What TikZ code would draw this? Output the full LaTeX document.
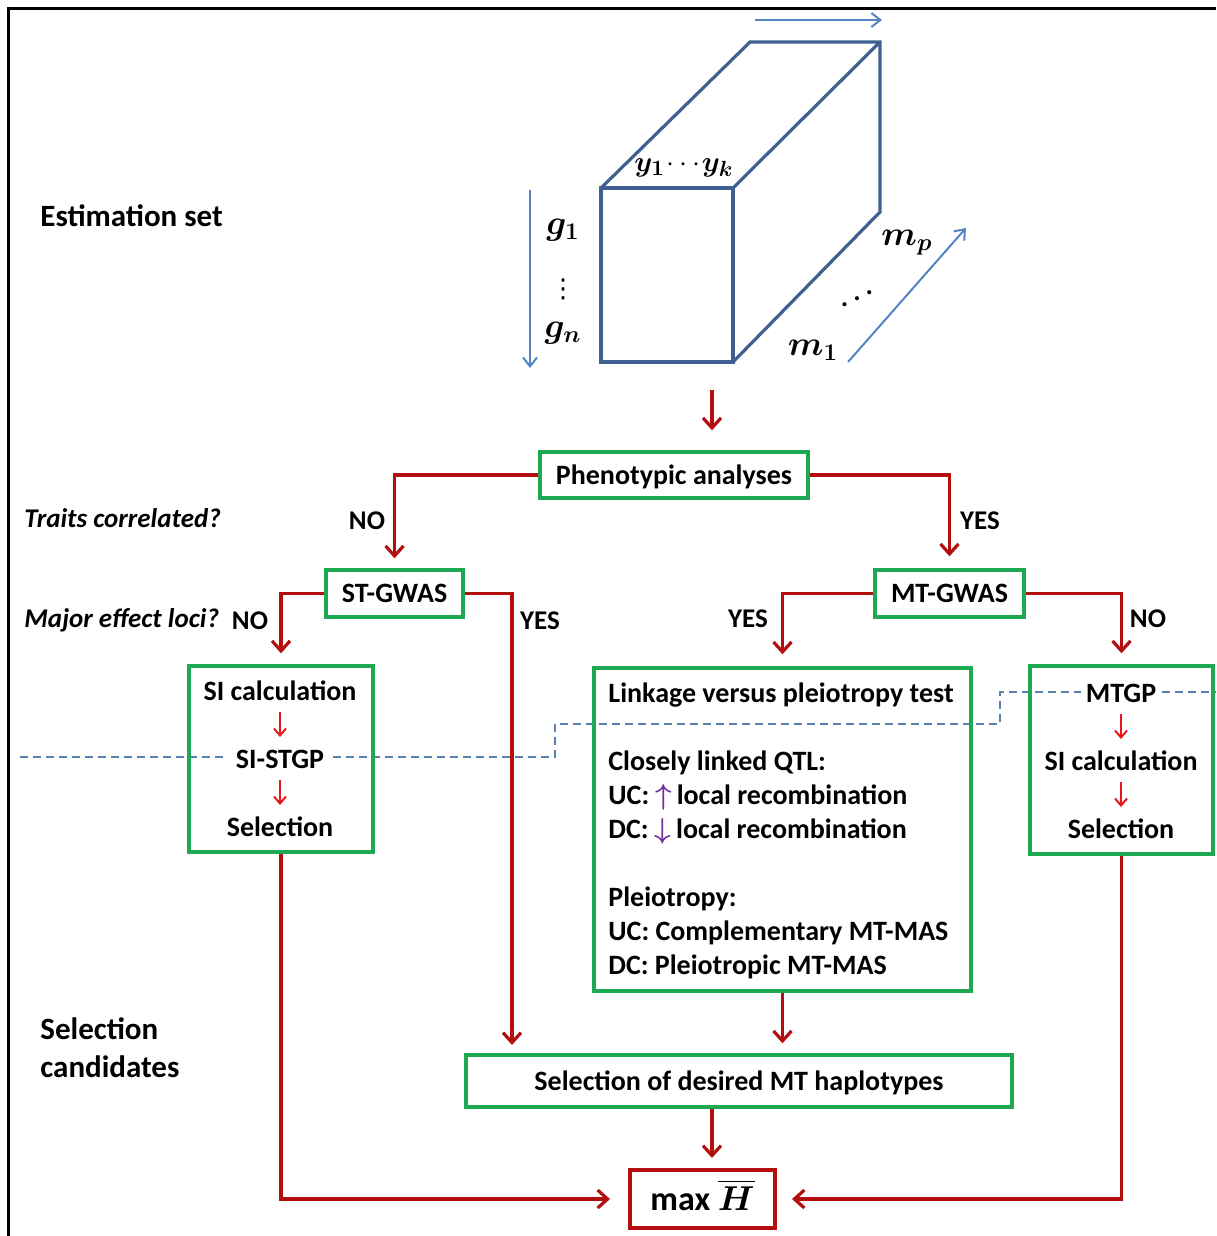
\documentclass[tikz,border=0pt]{standalone}
\usepackage{fontspec}
\setmainfont{Carlito}
\newfontfamily\djv{DejaVu Sans}
\usepackage{amsmath,bm,graphicx}
\usetikzlibrary{arrows.meta,calc}
\definecolor{gboxc}{HTML}{1DA851}
\definecolor{rline}{HTML}{B30F0F}
\definecolor{rsmall}{HTML}{E8161B}
\definecolor{cubeblue}{HTML}{3F6090}
\definecolor{arrblue}{HTML}{5585C0}
\definecolor{dashblue}{HTML}{5A80B0}
\definecolor{purp}{HTML}{7030A0}
\begin{document}
\begin{tikzpicture}[x=0.5pt,y=-0.5pt,
  box/.style={draw=gboxc, line width=1.7pt, inner sep=0pt, font=\bfseries\fontsize{14}{17}\selectfont, text height=9pt, text depth=0pt},
  txt/.style={font=\bfseries\fontsize{14}{17}\selectfont, inner sep=0pt, text height=9pt, text depth=0pt},
  lbl/.style={font=\bfseries\fontsize{13.5}{16}\selectfont, inner sep=0pt, text height=8.7pt, text depth=0pt},
  qlbl/.style={font=\bfseries\itshape\fontsize{13.5}{16}\selectfont, inner sep=0pt, anchor=west},
  big/.style={font=\bfseries\fontsize{15.5}{19}\selectfont, inner sep=0pt, anchor=west, align=left},
  mth/.style={font=\fontsize{17}{20}\selectfont, inner sep=0pt},
  flow/.style={draw=rline, line width=1.6pt, -{Straight Barb[length=5pt,width=9pt]}},
  minor/.style={draw=rsmall, line width=1pt, -{Straight Barb[length=3.5pt,width=6pt]}},
  cube/.style={draw=cubeblue, line width=1.6pt, line join=miter},
  bluearr/.style={draw=arrblue, line width=1pt, -{Straight Barb[length=4.5pt,width=7pt]}},
  divider/.style={draw=dashblue, line width=0.8pt, dash pattern=on 4pt off 2.5pt}
]
\useasboundingbox (0,0) rectangle (1216,1236);
% frame
\draw[line width=1.5pt] (8,1236) -- (8,9) -- (1216,9);

% cube
\draw[cube] (601,188) rectangle (733,362);
\draw[cube] (601,188) -- (750,42) -- (880,42) -- (880,212) -- (733,362);
\draw[cube] (733,188) -- (880,42);
\draw[bluearr] (530,190) -- (530,368);
\draw[bluearr] (755,20) -- (882,20);
\draw[bluearr] (848,362) -- (966,228);
\node[mth, font=\fontsize{15.5}{18}\selectfont] (yk) at (684,168) {$\bm{y_1}\mkern-2mu\cdots\mkern-2mu\bm{y_k}$};
\node[mth] (g1) at (563,230) {$\bm{g_1}$};
\node[mth, font=\djv\fontsize{13}{15}\selectfont] (vd) at (563,289) {⋮};
\node[mth] (gn) at (563,333) {$\bm{g_n}$};
\node[mth] (mp) at (907,243) {$\bm{m_p}$};
\node[mth] (m1) at (813,350) {$\bm{m_1}$};
\node[mth] (dd) at (857,293) {\reflectbox{$\ddots$}};

% side labels
\node[big] (est) at (40,216) {Estimation set};
\node[big] (selc) at (40,1048) {Selection\\candidates};
\node[qlbl] (q1) at (24,518) {Traits correlated?};
\node[qlbl] (q2) at (24,620) {Major effect loci?};

% dashed divider
\draw[divider] (20,757) -- (228,757);
\draw[divider] (333,757) -- (555,757) -- (555,724) -- (1000,724) -- (1000,692) -- (1081,692);
\draw[divider] (1162,692) -- (1216,692);

% boxes
\node[box, minimum width=134pt, minimum height=23pt] (pheno) at (674,475) {Phenotypic analyses};
\node[box, minimum width=68.5pt, minimum height=23.5pt] (st) at (394.5,593.5) {ST-GWAS};
\node[box, minimum width=74.5pt, minimum height=23.5pt] (mt) at (949.5,593.5) {MT-GWAS};
\node[box, minimum width=92pt, minimum height=93pt] (si) at (281,759) {};
\node[box, minimum width=188.5pt, minimum height=161.5pt] (link) at (782.5,829.5) {};
\node[box, minimum width=91.5pt, minimum height=94pt] (mtgp) at (1121.5,760) {};
\node[box, minimum width=273pt, minimum height=26pt] (haplo) at (739,1081) {Selection of desired MT haplotypes};
\node[box, draw=rline, line width=2pt, minimum width=72.5pt, minimum height=29pt, font=\bfseries\fontsize{17}{20}\selectfont, text height=11pt] (max) at (702.5,1199) {max $\overline{\bm{H}}$};

% SI box contents
\node[txt] (si1) at (280,691) {SI calculation};
\node[txt] (si2) at (280,759) {SI-STGP};
\node[txt] (si3) at (280,827) {Selection};
\draw[minor] ([yshift=-10.5pt]si1.center) -- ([yshift=11pt]si2.center);
\draw[minor] ([yshift=-10.5pt]si2.center) -- ([yshift=11pt]si3.center);

% MTGP box contents
\node[txt] (mg1) at (1121,693) {MTGP};
\node[txt] (mg2) at (1121,761) {SI calculation};
\node[txt] (mg3) at (1121,829) {Selection};
\draw[minor] ([yshift=-10.5pt]mg1.center) -- ([yshift=11pt]mg2.center);
\draw[minor] ([yshift=-10.5pt]mg2.center) -- ([yshift=11pt]mg3.center);

% Linkage box contents
\node[txt, anchor=west] (l1) at (608,693) {Linkage versus pleiotropy test};
\node[txt, anchor=west] (l2) at (608,761) {Closely linked QTL:};
\node[txt, anchor=west] (l3) at (608,795) {UC: \textcolor{purp}{$\bm{\uparrow}$}\,local recombination};
\node[txt, anchor=west] (l4) at (608,829) {DC: \textcolor{purp}{$\bm{\downarrow}$}\,local recombination};
\node[txt, anchor=west] (l5) at (608,897) {Pleiotropy:};
\node[txt, anchor=west] (l6) at (608,931) {UC: Complementary MT-MAS};
\node[txt, anchor=west] (l7) at (608,965) {DC: Pleiotropic MT-MAS};

% decision labels
\node[lbl] (no1) at (367,521) {NO};
\node[lbl] (yes1) at (980,521) {YES};
\node[lbl] (no2) at (250,621) {NO};
\node[lbl] (yes2) at (540,621) {YES};
\node[lbl] (yes3) at (748,619) {YES};
\node[lbl] (no3) at (1148,619) {NO};

% connectors
\coordinate (cubeb) at (712,390);
\coordinate (hapL) at (512,1055);
\coordinate (midx) at (712,0);
\draw[flow, shorten >=10pt] (cubeb) -- (pheno.north -| cubeb);
\draw[flow, shorten >=5pt] (pheno.west) -| (st.north);
\draw[flow, shorten >=6pt] (pheno.east) -| (mt.north);
\draw[flow, shorten >=5.5pt] (st.west) -| (si.north);
\draw[flow, shorten >=5pt] (st.east) -| (hapL);
\draw[flow, shorten >=6pt] (mt.west) -| (link.north);
\draw[flow, shorten >=5.5pt] (mt.east) -| (mtgp.north);
\draw[flow, shorten >=5pt] (link.south) -- (link.south |- haplo.north);
\draw[flow, shorten >=5pt] (haplo.south -| midx) -- (max.north -| midx);
\draw[flow, shorten >=9pt] (si.south) |- (max.west);
\draw[flow, shorten >=7.5pt] (mtgp.south) |- (max.east);
\end{tikzpicture}
\end{document}
